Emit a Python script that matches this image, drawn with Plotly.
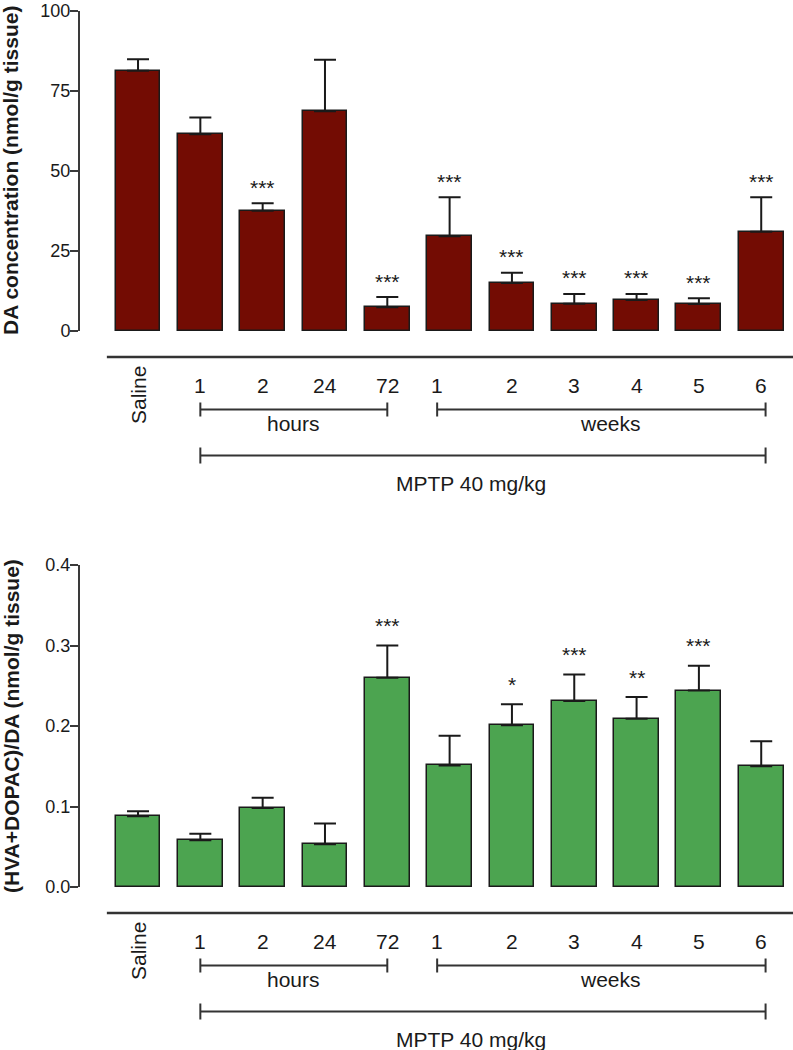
import plotly.graph_objects as go

# groups on the x axis
categories = ["Saline", "1 h", "2 h", "24 h", "72 h", "1 wk", "2 wk", "3 wk", "4 wk", "5 wk", "6 wk"]
tick_text = ["Saline", "1", "2", "24", "72", "1", "2", "3", "4", "5", "6"]

# striatal DA (nmol/g tissue), mean and SEM
da_mean = [81.3, 61.5, 37.6, 68.7, 7.4, 29.6, 15.0, 8.5, 9.7, 8.4, 31.0]
da_sem = [3.6, 5.2, 2.3, 16.1, 3.2, 12.2, 3.2, 3.1, 1.9, 1.8, 10.8]
da_sig = ["", "", "***", "", "***", "***", "***", "***", "***", "***", "***"]

# turnover (HVA+DOPAC)/DA, mean and SEM
to_mean = [0.088, 0.058, 0.098, 0.053, 0.260, 0.151, 0.201, 0.231, 0.209, 0.244, 0.150]
to_sem = [0.006, 0.008, 0.013, 0.026, 0.040, 0.037, 0.026, 0.033, 0.027, 0.031, 0.031]
to_sig = ["", "", "", "", "***", "", "*", "***", "**", "***", ""]

FONT = "Liberation Sans, Arial, sans-serif"
INK = "#1a1a1a"
W, H = 793, 1050
XR = [-0.931, 10.51]
n = len(categories)
xs = list(range(n))

# pixel rows of the two panels (top of axis, zero line)
panels = [
    dict(top=11, zero=331, mean=da_mean, sem=da_sem, sig=da_sig, color="#730c03",
         rng=[0, 100], dtick=25, fmt="", star_shift=16,
         title="DA concentration (nmol/g tissue)"),
    dict(top=565, zero=887, mean=to_mean, sem=to_sem, sig=to_sig, color="#4ca450",
         rng=[0, 0.4], dtick=0.1, fmt=".1f", star_shift=20,
         title="(HVA+DOPAC)/DA (nmol/g tissue)"),
]


def py(px):
    # pixel row -> paper fraction
    return (H - px) / H


fig = go.Figure()
annotations = []
shapes = []

for i, p in enumerate(panels):
    sfx = "" if i == 0 else str(i + 1)
    xa, ya = "x" + sfx, "y" + sfx
    fig.add_trace(go.Bar(
        x=xs, y=p["mean"], width=0.72,
        marker=dict(color=p["color"], line=dict(color=INK, width=1.5)),
        error_y=dict(type="data", array=p["sem"], arrayminus=[0] * n, symmetric=False,
                     color=INK, thickness=2, width=11),
        xaxis=xa, yaxis=ya, showlegend=False,
    ))
    dom = [py(p["zero"]), py(p["top"])]
    fig.layout["xaxis" + sfx] = dict(range=XR, domain=[0, 1], anchor=ya, visible=False,
                                     automargin=False)
    fig.layout["yaxis" + sfx] = dict(
        range=p["rng"], domain=dom, anchor=xa, dtick=p["dtick"], tickformat=p["fmt"],
        showline=True, linecolor="#3a3a3a", linewidth=2, ticks="outside", ticklen=8,
        tickwidth=2, tickcolor="#3a3a3a", showgrid=False, zeroline=False,
        tickfont=dict(family=FONT, size=18, color=INK), ticklabelstandoff=-4,
        ticklabeloverflow="allow", automargin=False,
    )

    # y axis title
    annotations.append(dict(text="<b>" + p["title"] + "</b>", xref="paper", yref="paper",
                            x=0, xshift=-69, y=(dom[0] + dom[1]) / 2, textangle=-90,
                            showarrow=False, xanchor="center", yanchor="middle",
                            font=dict(family=FONT, size=21, color=INK)))

    # significance stars
    for k in range(n):
        if p["sig"][k]:
            annotations.append(dict(text=p["sig"][k], xref=xa, yref=ya, x=xs[k],
                                    y=p["mean"][k] + p["sem"][k], yshift=p["star_shift"],
                                    showarrow=False, yanchor="middle",
                                    font=dict(family=FONT, size=21, color=INK)))

    # category labels
    label_pos = [float(k) for k in xs]
    label_pos[5] -= 0.2
    for k in range(n):
        if k == 0:
            annotations.append(dict(text=tick_text[k], xref=xa, yref=ya, x=label_pos[k], y=0,
                                    yshift=-64, textangle=-90, showarrow=False,
                                    xanchor="center", yanchor="middle",
                                    font=dict(family=FONT, size=21, color=INK)))
        else:
            annotations.append(dict(text=tick_text[k], xref=xa, yref=ya, x=label_pos[k], y=0,
                                    yshift=-54, showarrow=False, yanchor="middle",
                                    font=dict(family=FONT, size=21, color=INK)))

    z = p["zero"]
    # separator line under the panel
    shapes.append(dict(type="line", xref=xa, yref="paper", x0=-0.5, x1=XR[1],
                       y0=py(z + 26), y1=py(z + 26),
                       line=dict(color="#333333", width=2.5)))

    # brackets: hours, weeks, MPTP
    brackets = [(1, 4, 78.5, 7, "hours", 2.5, 92),
                (4.8, 10.07, 78.5, 7, "weeks", 7.58, 92),
                (1, 10.07, 124.5, 8, "MPTP 40 mg/kg", 5.35, 152)]
    for x0, x1, yb, half, txt, tx, ty in brackets:
        shapes.append(dict(type="line", xref=xa, yref="paper", x0=x0, x1=x1,
                           y0=py(z + yb), y1=py(z + yb), line=dict(color="#333333", width=2)))
        for xe in (x0, x1):
            shapes.append(dict(type="line", xref=xa, yref="paper", x0=xe, x1=xe,
                               y0=py(z + yb - half), y1=py(z + yb + half),
                               line=dict(color="#333333", width=2)))
        annotations.append(dict(text=txt, xref=xa, yref=ya, x=tx, y=0, yshift=-ty,
                                showarrow=False, yanchor="middle",
                                font=dict(family=FONT, size=21, color=INK)))

fig.update_layout(
    width=W, height=H,
    margin=dict(l=80, r=0, t=0, b=0, autoexpand=False),
    paper_bgcolor="white", plot_bgcolor="white",
    annotations=annotations, shapes=shapes,
    bargap=0,
)

# page body margin would push the fixed-size figure 8px off
fig.write_html("out.html", config={"displayModeBar": False},
               post_script="document.body.style.margin='0';")
